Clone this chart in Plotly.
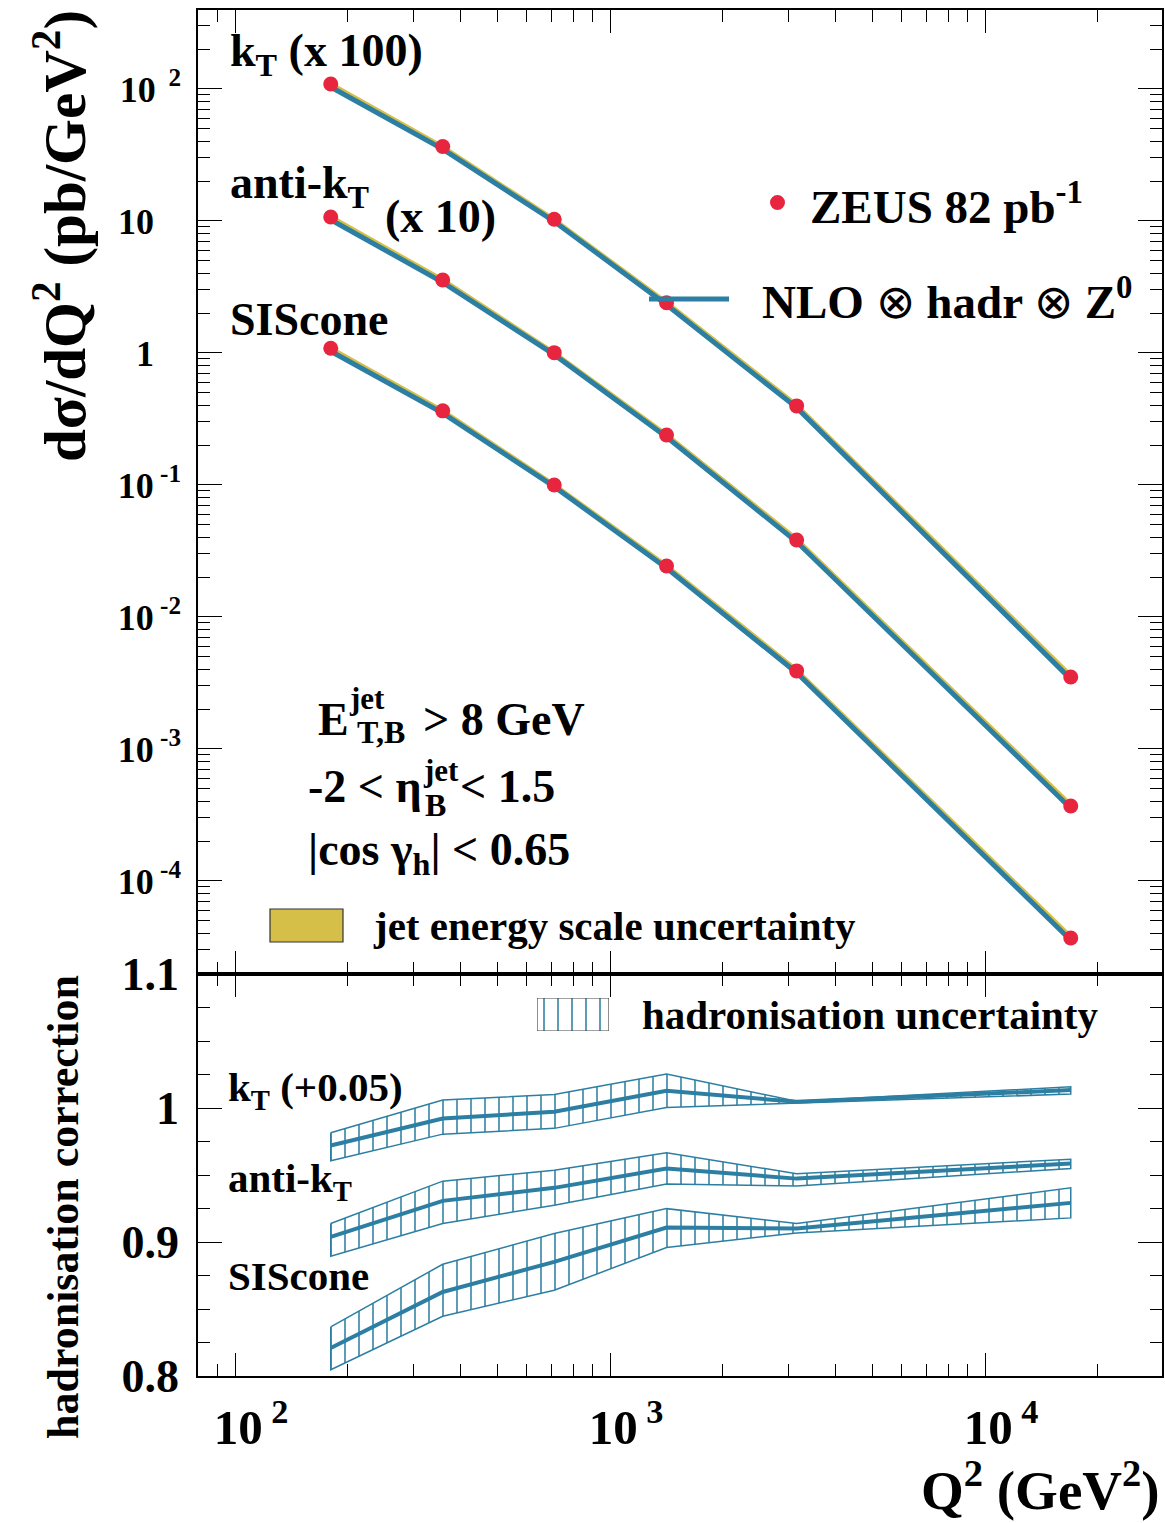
import plotly.graph_objects as go

# ---------------- data ----------------
Q2 = [180, 358, 710, 1415, 3146, 16930]

# measured d sigma / dQ2 (pb/GeV^2), unscaled
XS_KT = [1.09, 0.366, 0.103, 0.0240, 0.00397, 3.51e-5]
XS_ANTIKT = [1.07, 0.357, 0.1005, 0.0239, 0.00383, 3.70e-5]
XS_SISCONE = [1.085, 0.364, 0.100, 0.0243, 0.00390, 3.70e-5]

# NLO x hadr x Z0 predictions, unscaled
NLO_KT = [1.035, 0.350, 0.099, 0.0232, 0.00385, 3.38e-5]
NLO_ANTIKT = [1.02, 0.343, 0.097, 0.0231, 0.00371, 3.55e-5]
NLO_SISCONE = [1.03, 0.350, 0.097, 0.0235, 0.00378, 3.55e-5]

# relative jet-energy-scale uncertainty of the prediction
JES_UP = [0.10, 0.09, 0.08, 0.09, 0.10, 0.12]
JES_DN = [0.03, 0.03, 0.03, 0.03, 0.03, 0.03]

SCALE_KT = 100
SCALE_ANTIKT = 10
SCALE_SISCONE = 1

# hadronisation corrections (k_T shown shifted by +0.05)
HAD_KT = [0.922, 0.9422, 0.9472, 0.9628, 0.9546, 0.9634]
HAD_KT_UP = [0.9315, 0.9559, 0.9601, 0.9753, 0.9550, 0.9658]
HAD_KT_DN = [0.9106, 0.9305, 0.9348, 0.9504, 0.9535, 0.9604]
HAD_KT_SHIFT = 0.05
HAD_ANTIKT = [0.9038, 0.9307, 0.9404, 0.9549, 0.9473, 0.9586]
HAD_ANTIKT_UP = [0.9138, 0.9454, 0.9536, 0.9666, 0.9510, 0.9618]
HAD_ANTIKT_DN = [0.8894, 0.9138, 0.9275, 0.9432, 0.9417, 0.9549]
HAD_SISCONE = [0.8209, 0.8627, 0.8852, 0.9108, 0.9100, 0.9292]
HAD_SISCONE_UP = [0.8366, 0.8834, 0.9063, 0.9249, 0.9138, 0.9404]
HAD_SISCONE_DN = [0.8047, 0.8446, 0.8640, 0.8959, 0.9068, 0.9180]

X_TICKS = [100, 1000, 10000]
X_TICKTEXT = ["10<sup> 2</sup>", "10<sup> 3</sup>", "10<sup> 4</sup>"]
Y_TICKS = [1e-4, 1e-3, 1e-2, 1e-1, 1, 10, 100]
NB = "\u00a0"
Y_TICKTEXT = ["10<sup> -4</sup>", "10<sup> -3</sup>", "10<sup> -2</sup>",
              "10<sup> -1</sup>", "1" + NB * 3, "10" + NB * 3,
              "10<sup>  2</sup>"]
R_TICKS = [0.8, 0.9, 1.0, 1.1]
R_TICKTEXT = ["0.8", "0.9", "1", "1.1"]

# ---------------- style ----------------
BLUE = "#2C7FA2"
RED = "#E8253F"
YELLOW = "#D5BF48"
FONT = "Liberation Serif"

W, H = 1165, 1523
L, R, T, B = 198, 1162, 10, 1376
SPLIT = 974
YSPLIT = (B - SPLIT) / (B - T)


def px(x):
    return (x - L) / (R - L)


def py(y):
    return (B - y) / (B - T)


fig = go.Figure()

# ---------------- top panel ----------------
top_sets = [
    (XS_KT, NLO_KT, SCALE_KT),
    (XS_ANTIKT, NLO_ANTIKT, SCALE_ANTIKT),
    (XS_SISCONE, NLO_SISCONE, SCALE_SISCONE),
]
for xs, nlo, sc in top_sets:
    up = [v * sc * (1 + u) for v, u in zip(nlo, JES_UP)]
    dn = [v * sc * (1 - d) for v, d in zip(nlo, JES_DN)]
    fig.add_trace(go.Scatter(
        x=Q2 + Q2[::-1] + [Q2[0]], y=up + dn[::-1] + [up[0]],
        mode="lines", fill="toself", fillcolor=YELLOW,
        line=dict(width=0, color=YELLOW), xaxis="x", yaxis="y",
        hoverinfo="skip"))
for xs, nlo, sc in top_sets:
    fig.add_trace(go.Scatter(
        x=Q2, y=[v * sc for v in nlo], mode="lines",
        line=dict(color=BLUE, width=5), xaxis="x", yaxis="y"))
for xs, nlo, sc in top_sets:
    fig.add_trace(go.Scatter(
        x=Q2, y=[v * sc for v in xs], mode="markers",
        marker=dict(color=RED, size=15, line=dict(width=0)),
        xaxis="x", yaxis="y"))

# ---------------- bottom panel ----------------
bot_sets = [
    (HAD_KT, HAD_KT_UP, HAD_KT_DN, HAD_KT_SHIFT),
    (HAD_ANTIKT, HAD_ANTIKT_UP, HAD_ANTIKT_DN, 0.0),
    (HAD_SISCONE, HAD_SISCONE_UP, HAD_SISCONE_DN, 0.0),
]
HATCH = dict(shape="|", fgcolor=BLUE, bgcolor="rgba(0,0,0,0)", size=14,
             solidity=0.11, fillmode="replace")
for c, u, d, s in bot_sets:
    up = [v + s for v in u]
    dn = [v + s for v in d]
    fig.add_trace(go.Scatter(
        x=Q2 + Q2[::-1] + [Q2[0]], y=up + dn[::-1] + [up[0]],
        mode="lines", fill="toself", fillcolor="rgba(0,0,0,0)",
        fillpattern=HATCH, line=dict(color=BLUE, width=1.5),
        xaxis="x2", yaxis="y2", hoverinfo="skip"))
    fig.add_trace(go.Scatter(
        x=Q2, y=[v + s for v in c], mode="lines",
        line=dict(color=BLUE, width=4), xaxis="x2", yaxis="y2"))

# legend key for hadronisation uncertainty (small inset axes)
fig.add_trace(go.Scatter(
    x=[0, 1, 1, 0, 0], y=[0, 0, 1, 1, 0], mode="lines", fill="toself",
    fillcolor="rgba(0,0,0,0)", fillpattern=HATCH,
    line=dict(color="#444444", width=1.2), xaxis="x3", yaxis="y3",
    hoverinfo="skip"))

# ---------------- axes ----------------
tickfont_top = dict(family=FONT, size=36, color="black", weight="bold")
tickfont_bot = dict(family=FONT, size=46, color="black", weight="bold")
tickfont_x = dict(family=FONT, size=49, color="black", weight="bold")
common = dict(showline=True, linecolor="black", linewidth=1.5, mirror="ticks",
              ticks="inside", tickcolor="black", tickwidth=1.2,
              showgrid=False, zeroline=False, automargin=False)

xr = [1.9013, 4.472]
fig.update_layout(
    width=W, height=H,
    margin=dict(l=L, r=W - R, t=T, b=H - B, pad=0, autoexpand=False),
    paper_bgcolor="white", plot_bgcolor="white",
    showlegend=False,
    xaxis=dict(type="log", range=xr, domain=[0, 1], anchor="y",
               tickmode="array", tickvals=X_TICKS, showticklabels=False,
               ticklen=23,
               minor=dict(ticks="inside", ticklen=12, dtick="D1",
                          tickcolor="black", tickwidth=1.2),
               **common),
    yaxis=dict(type="log", range=[-4.705, 2.598], domain=[YSPLIT, 1],
               anchor="x", tickmode="array", tickvals=Y_TICKS,
               ticktext=Y_TICKTEXT, tickfont=tickfont_top, ticklen=24,
               ticklabelstandoff=8,
               minor=dict(ticks="inside", ticklen=12, dtick="D1",
                          tickcolor="black", tickwidth=1.2),
               **common),
    xaxis2=dict(type="log", range=xr, domain=[0, 1], anchor="y2",
                tickmode="array", tickvals=X_TICKS, ticktext=X_TICKTEXT,
                tickfont=tickfont_x, ticklen=23, ticklabelstandoff=7,
                ticklabelshift=16,
                minor=dict(ticks="inside", ticklen=12, dtick="D1",
                           tickcolor="black", tickwidth=1.2),
                **common),
    yaxis2=dict(range=[0.8, 1.1], domain=[0, YSPLIT], anchor="x2",
                tickmode="array", tickvals=R_TICKS, ticktext=R_TICKTEXT,
                tickfont=tickfont_bot, ticklen=24, ticklabelstandoff=8,
                minor=dict(ticks="inside", ticklen=12, dtick=0.025,
                           tick0=0.8, tickcolor="black", tickwidth=1.2),
                **common),
    xaxis3=dict(range=[0, 1], domain=[px(537), px(609)], anchor="y3",
                visible=False, fixedrange=True),
    yaxis3=dict(range=[0, 1], domain=[py(1031), py(998)], anchor="x3",
                visible=False, fixedrange=True),
)

# ---------------- legend keys (shapes) ----------------
fig.add_shape(type="circle", xref="paper", yref="paper",
              x0=px(770), x1=px(785), y0=py(210), y1=py(195),
              fillcolor=RED, line=dict(width=0))
fig.add_shape(type="line", xref="paper", yref="paper",
              x0=px(649), x1=px(729), y0=py(299), y1=py(299),
              line=dict(color=BLUE, width=5))
fig.add_shape(type="rect", xref="paper", yref="paper",
              x0=px(270), x1=px(343), y0=py(942), y1=py(909),
              fillcolor=YELLOW, line=dict(color="#333333", width=1.2))

# ---------------- text ----------------


def ann(text, x, base, size, anchor="left", family=FONT):
    mid = base - 0.30 * size
    fig.add_annotation(text=text, x=px(x), y=py(mid), xref="paper",
                       yref="paper", xanchor=anchor, yanchor="middle",
                       showarrow=False,
                       font=dict(family=family, size=size, color="black",
                                 weight="bold"))


OTIMES = '<span style="font-weight:normal">⊗</span>'

ann("k<sub>T</sub> (x 100)", 228, 68, 46)
ann("anti-k<sub>T</sub>", 228, 200, 46)
ann("(x 10)", 383, 230, 46)
ann("SIScone", 228, 333, 46)
ann("ZEUS 82 pb<sup>-1</sup>", 808, 218, 47)
ann("NLO " + OTIMES + " hadr " + OTIMES + " Z<sup>0</sup>", 760, 313, 47)

ann("E", 316, 733, 46)
ann("jet", 347, 708, 31)
ann("T,B", 355, 742, 32)
ann("> 8 GeV", 421, 733, 46)
ann("-2 < η", 306, 800, 46)
ann("jet", 421, 780, 31)
ann("B", 423, 815, 32)
ann("< 1.5", 458, 800, 46)
ann("|cos γ<sub>h</sub>| < 0.65", 306, 867, 46)
ann("jet energy scale uncertainty", 371, 938, 41)

ann("hadronisation uncertainty", 640, 1027, 41)
ann("k<sub>T</sub> (+0.05)", 226, 1102, 41)
ann("anti-k<sub>T</sub>", 226, 1193, 41)
ann("SIScone", 226, 1288, 41)

# axis titles
fig.add_annotation(text="dσ/dQ<sup>2</sup> (pb/GeV<sup>2</sup>)",
                   textangle=-90, x=px(60), y=py(8), xref="paper",
                   yref="paper", xanchor="center", yanchor="top",
                   showarrow=False,
                   font=dict(family=FONT, size=59, color="black",
                             weight="bold"))
fig.add_annotation(text="hadronisation correction",
                   textangle=-90, x=px(63), y=py(973), xref="paper",
                   yref="paper", xanchor="center", yanchor="top",
                   showarrow=False,
                   font=dict(family=FONT, size=44, color="black",
                             weight="bold"))
fig.add_annotation(text="Q<sup>2</sup> (GeV<sup>2</sup>)",
                   x=px(1162), y=py(1523), xref="paper", yref="paper",
                   xanchor="right", yanchor="bottom", showarrow=False,
                   font=dict(family=FONT, size=55, color="black",
                             weight="bold"))

fig.write_html("out.html")
